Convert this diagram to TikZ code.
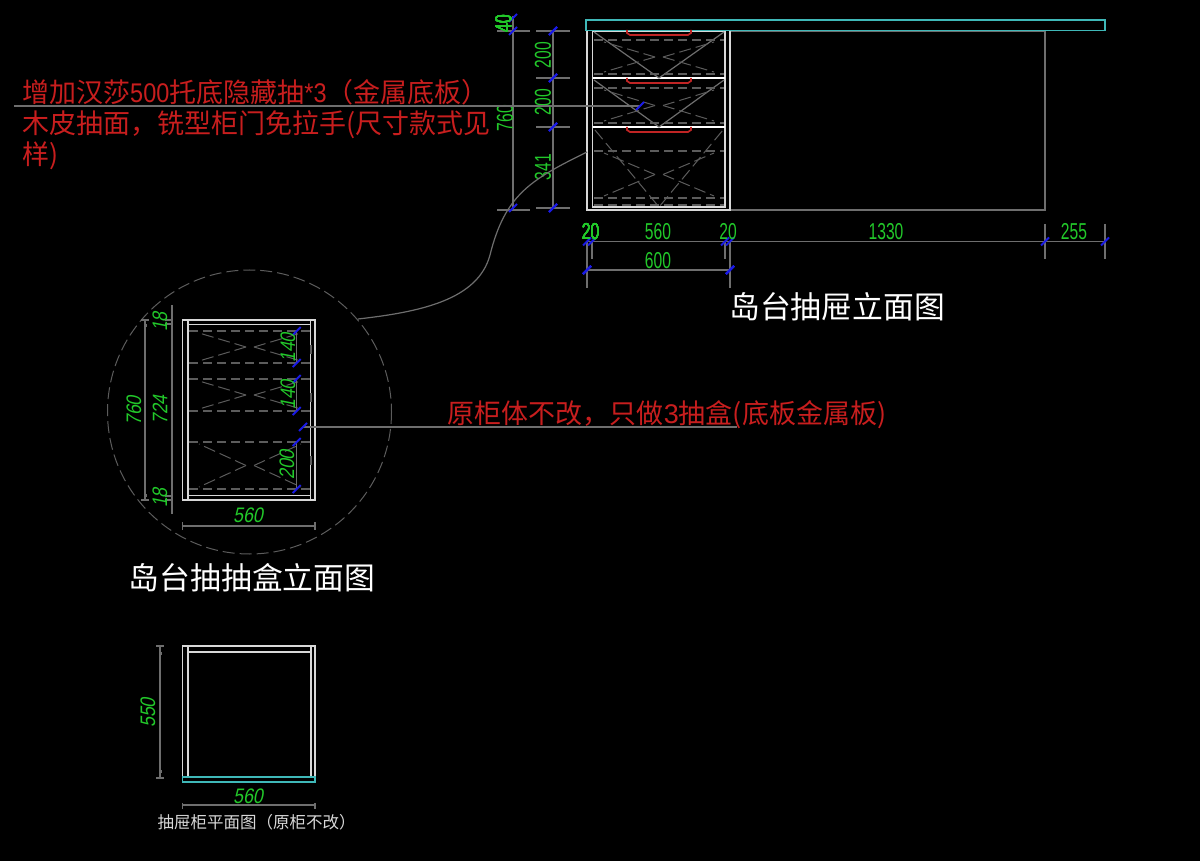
\documentclass[tikz,border=0pt]{standalone}
\usepackage{fontspec}
\setmainfont{Liberation Sans}
\newfontfamily\cjk{Noto Sans CJK SC}
\newfontfamily\notedigit[FakeStretch=0.87]{Liberation Sans}
\newfontfamily\dimit[FakeStretch=0.85,FakeSlant=0.2]{Liberation Sans}
\definecolor{dimgreen}{HTML}{22C82A}
\definecolor{notered}{HTML}{C81E1E}
\definecolor{handlered}{HTML}{C02424}
\definecolor{topcyan}{HTML}{3FB8B8}
\definecolor{dimgray}{HTML}{6E6E6E}
\definecolor{dashgray}{HTML}{5C5C5C}
\definecolor{panel}{HTML}{D8D8D8}
\definecolor{tickblue}{HTML}{1A1AE6}
\tikzset{
  panel line/.style={draw=panel, line width=1.3pt},
  strong line/.style={draw=white, line width=2.6pt},
  top line/.style={draw=topcyan, line width=1.5pt},
  handle line/.style={draw=handlered, line width=1.7pt},
  dim line/.style={draw=dimgray, line width=1.2pt},
  dash line/.style={draw=dashgray, line width=1.1pt, dash pattern=on 9pt off 5pt},
  hidden line/.style={draw=dashgray, line width=1pt, dash pattern=on 12pt off 5pt},
  tick line/.style={draw=tickblue, line width=2pt},
  dim text/.style={text=dimgreen, inner sep=0pt, xscale=.68, transform shape, font=\fontsize{23}{23}\selectfont},
  dim italic/.style={text=dimgreen, inner sep=0pt, font=\dimit\fontsize{21}{21}\selectfont},
  note text/.style={text=notered, inner sep=0pt, font=\cjk\fontsize{27}{31}\selectfont},
  title text/.style={text=white, inner sep=0pt, font=\cjk\fontsize{30.8}{30.8}\selectfont}
}
% oblique dimension tick
\newcommand{\dimtick}[2]{\draw[tick line] (#1-4,#2+4) -- (#1+4,#2-4);}
% hidden cross of a drawer box: left, right, top, bottom
\newcommand{\drawercross}[4]{
  \pgfmathsetmacro{\cxa}{(#1+#2)/2}
  \pgfmathsetmacro{\cya}{(#3+#4)/2}
  \draw[hidden line] (\cxa-4,\cya) -- (#1+10,#3+2);
  \draw[hidden line] (\cxa-4,\cya) -- (#1+10,#4-2);
  \draw[hidden line] (\cxa+4,\cya) -- (#2-10,#3+2);
  \draw[hidden line] (\cxa+4,\cya) -- (#2-10,#4-2);
}
\begin{document}
\begin{tikzpicture}[x=1pt, y=-1pt]
  \useasboundingbox[fill=black] (0,0) rectangle (1200,861);

  % elevation
  \draw[dim line] (730,31) -- (1045,31) -- (1045,210) -- (730,210);
  \draw[panel line] (587,31) -- (587,210) -- (730,210) -- (730,31);
  \draw[panel line] (592.5,31) rectangle (725,207);
  \draw[top line] (586,20) rectangle (1105,30.5);
  \foreach \ya in {78,127}
    \draw[strong line] (592.5,\ya) -- (725,\ya);
  \foreach \ya in {30,78,127}
    \draw[handle line] (627,\ya) -- (627,\ya+3) -- (630,\ya+5) -- (688,\ya+5) -- (691,\ya+3) -- (691,\ya);
  \foreach \ya/\yb in {32/78,80/127}{
    \draw[dim line] (594,\ya) -- (659,\yb) -- (724,\ya);
    \draw[dash line] (594,\ya+8) -- (724,\ya+8);
    \draw[dash line] (594,\yb-4) -- (724,\yb-4);
    \drawercross{594}{724}{\ya+8}{\yb-4}
  }
  \draw[dash line] (594,151) -- (724,151);
  \draw[dash line] (594,198) -- (724,198);
  \draw[dash line] (594,205) -- (724,205);
  \drawercross{594}{724}{151}{198}
  \draw[hidden line] (595,130) -- (659,207) -- (723,130);

  % elevation dimensions
  \draw[dim line] (513,16) -- (513,210);
  \draw[dim line] (553,31) -- (553,208);
  \draw[dim line] (497,31) -- (530,31);
  \draw[dim line] (497,210) -- (530,210);
  \foreach \ya in {31,78,127,208}
    \draw[dim line] (536,\ya) -- (570,\ya);
  \foreach \ya in {18,31,208}
    \dimtick{513}{\ya}
  \foreach \ya in {31,78,127,208}
    \dimtick{553}{\ya}
  \node[rotate=90, dim text] (dimforty) at (503.5,24) {40};
  \node[rotate=90, dim text] (dimsevensix) at (505,118) {760};
  \node[rotate=90, dim text] (dimdrawera) at (543,55) {200};
  \node[rotate=90, dim text] (dimdrawerb) at (543,102) {200};
  \node[rotate=90, dim text] (dimdrawerc) at (543,167) {341};

  \draw[dim line] (587,241.5) -- (1105,241.5);
  \draw[dim line] (587,270) -- (730,270);
  \foreach \xa in {587,730}
    \draw[dim line] (\xa,241.5) -- (\xa,288);
  \foreach \xa in {592,725}
    \draw[dim line] (\xa,241.5) -- (\xa,259);
  \foreach \xa in {1045,1105}
    \draw[dim line] (\xa,224) -- (\xa,259);
  \foreach \xa in {587,592,725,730,1045,1105}
    \dimtick{\xa}{241.5}
  \foreach \xa in {587,730}
    \dimtick{\xa}{270}
  \node[dim text] (dimleft) at (590.5,232) {20};
  \node[dim text] (dimwidth) at (658,232) {560};
  \node[dim text] (dimright) at (728,232) {20};
  \node[dim text] (dimopen) at (886,232) {1330};
  \node[dim text] (dimover) at (1074,232) {255};
  \node[dim text] (dimtotal) at (658,261) {600};
  \node[title text] (titlefront) at (837,307) {岛台抽屉立面图};

  % note with leader
  \draw[dim line] (14,106) -- (640,106);
  \dimtick{640}{106}
  \node[note text, anchor=north west, align=left] (notefront) at (22,79.5) {增加汉莎{\notedigit 500}托底隐藏抽{\notedigit *3}（金属底板）\\木皮抽面，铣型柜门免拉手(尺寸款式见\\样)};

  % detail circle and its link
  \draw[dim line] (587,152) .. controls (530,180) and (505,195) .. (490,255) .. controls (478,300) and (420,312) .. (358,319);
  \draw[hidden line] (249.5,412) circle (142);

  % drawer box
  \draw[panel line] (182.5,320) rectangle (315,500);
  \draw[panel line] (188,320) -- (188,500);
  \draw[panel line] (310.5,320) -- (310.5,500);
  \draw[panel line] (188,324.5) -- (310.5,324.5);
  \draw[panel line] (188,495.5) -- (310.5,495.5);
  \foreach \ya/\yb in {331/363,379/411,442/489}{
    \draw[dash line] (189,\ya) -- (311,\ya);
    \draw[dash line] (189,\yb) -- (311,\yb);
    \drawercross{189}{311}{\ya}{\yb}
    \draw[dim line] (296.7,\ya) -- (296.7,\yb);
    \dimtick{296.7}{\ya}
    \dimtick{296.7}{\yb}
  }
  \foreach \ya/\yb in {345/359,393/407,456/470}
    \draw[dash line] (311,\ya) -- (311,\yb);
  \node[dim italic, rotate=90] (dimboxa) at (288,348) {140};
  \node[dim italic, rotate=90] (dimboxb) at (288,395) {140};
  \node[dim italic, rotate=90] (dimboxc) at (287,465) {200};

  \draw[dim line] (303,427) -- (737,427);
  \dimtick{303}{427}
  \node[note text, anchor=base] (noteboxdim) at (667,423) {原柜体不改，只做{\rmfamily 3}抽盒(底板金属板)};

  \draw[dim line] (145,320) -- (145,500);
  \draw[dim line] (172,305) -- (172,514);
  \foreach \ya in {320,324,496,500}
    \draw[dim line] (165,\ya) -- (172,\ya);
  \draw[dim line] (141,320) -- (149,320);
  \draw[dim line] (141,500) -- (149,500);
  \foreach \ya in {325,495}
    \fill[dimgray] (143.5,\ya-1.5) rectangle (146.5,\ya+1.5);
  \node[dim italic, rotate=90] (dimboxtop) at (160,322) {18};
  \node[dim italic, rotate=90] (dimboxbot) at (160,498) {18};
  \node[dim italic, rotate=90] (dimboxin) at (160,410) {724};
  \node[dim italic, rotate=90] (dimboxall) at (134,411) {760};
  \draw[dim line] (182.5,526) -- (315,526);
  \foreach \xa in {182.5,315}
    \draw[dim line] (\xa,522) -- (\xa,530);
  \node[dim italic] (dimboxwidth) at (248,515) {560};
  \node[title text] (titlebox) at (252,578) {岛台抽抽盒立面图};

  % plan
  \draw[panel line] (182.5,646) -- (315,646) -- (315,777) -- (182.5,777) -- cycle;
  \draw[panel line] (188,646) -- (188,777);
  \draw[panel line] (311,646) -- (311,777);
  \draw[panel line] (188,652) -- (311,652);
  \draw[top line] (182.5,777) rectangle (315,782);
  \draw[dim line] (160,646) -- (160,778);
  \foreach \ya in {646,778}
    \draw[dim line] (156,\ya) -- (164,\ya);
  \foreach \ya in {653,771}
    \fill[dimgray] (158.5,\ya-1.5) rectangle (161.5,\ya+1.5);
  \node[dim italic, rotate=90] (dimplandepth) at (148,713) {550};
  \draw[dim line] (182.5,805) -- (315,805);
  \foreach \xa in {182.5,315}
    \draw[dim line] (\xa,803) -- (\xa,809);
  \node[dim italic] (dimplanwidth) at (248,796) {560};
  \node[text=panel, inner sep=0pt, font=\cjk\fontsize{16.5}{16.5}\selectfont] (titleplan) at (256.5,822) {抽屉柜平面图（原柜不改）};
\end{tikzpicture}
\end{document}
